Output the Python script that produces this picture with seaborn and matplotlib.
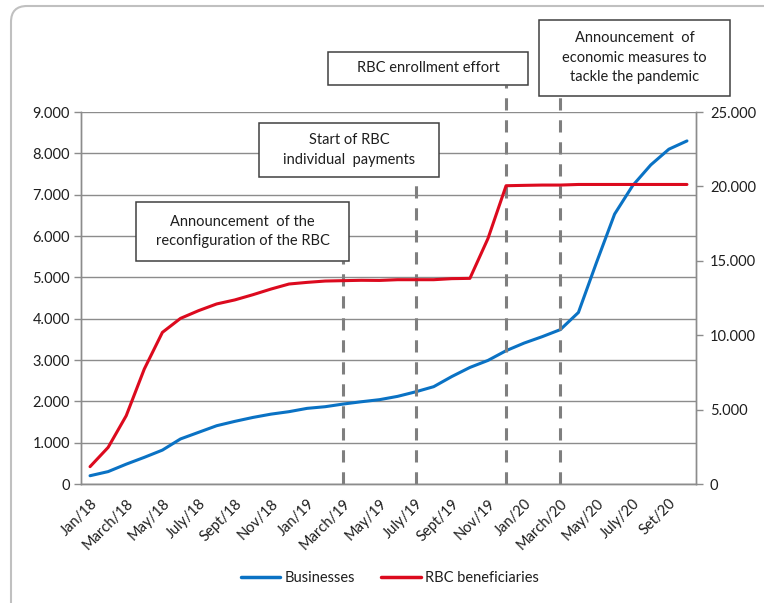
import matplotlib
matplotlib.use("Agg")
import matplotlib.pyplot as plt
import seaborn as sns
import pandas as pd
import numpy as np
from matplotlib.patches import Rectangle, FancyBboxPatch
from matplotlib.ticker import FuncFormatter, FixedLocator
from matplotlib.lines import Line2D

# ---------------- data ----------------
months = ["Jan/18", "Feb/18", "March/18", "April/18", "May/18", "June/18", "July/18", "Aug/18",
          "Sept/18", "Oct/18", "Nov/18", "Dec/18", "Jan/19", "Feb/19", "March/19", "April/19",
          "May/19", "June/19", "July/19", "Aug/19", "Sept/19", "Oct/19", "Nov/19", "Dec/19",
          "Jan/20", "Feb/20", "March/20", "April/20", "May/20", "June/20", "July/20", "Aug/20",
          "Set/20", "Oct/20"]
businesses = [200, 300, 480, 645, 820, 1090, 1250, 1410, 1515, 1610, 1690, 1750, 1830, 1870,
              1935, 1990, 2040, 2120, 2230, 2355, 2600, 2820, 2990, 3225, 3410, 3565, 3735,
              4150, 5360, 6530, 7220, 7720, 8100, 8300]
rbc_beneficiaries = [1165, 2460, 4590, 7730, 10190, 11130, 11650, 12100, 12370, 12720, 13100,
                     13440, 13550, 13640, 13665, 13690, 13680, 13730, 13730, 13730, 13800,
                     13820, 16500, 20045, 20070, 20090, 20090, 20130, 20130, 20130, 20130,
                     20130, 20130, 20130]
left_ticks = [0, 1000, 2000, 3000, 4000, 5000, 6000, 7000, 8000, 9000]
right_ticks = [0, 5000, 10000, 15000, 20000, 25000]
event_months = ["March/19", "July/19", "Dec/19", "March/20"]
event_texts = ["Announcement  of the\nreconfiguration of the RBC",
               "Start of RBC\nindividual  payments",
               "RBC enrollment effort",
               "Announcement  of\neconomic measures to\ntackle the pandemic"]

df = pd.DataFrame({"month": months, "pos": np.arange(len(months)),
                   "Businesses": businesses, "RBC beneficiaries": rbc_beneficiaries})

# ---------------- style ----------------
sns.set_theme(style="white")
plt.rcParams["font.family"] = ["Lato", "DejaVu Sans"]
TXT = "#1e1e1e"
GRID = "#8c8c8c"
BLUE = "#0a72c4"
RED = "#dc0a1e"

W, H = 764, 603
fig = plt.figure(figsize=(W / 100, H / 100), dpi=100)
L, R, T, B = 81, 696, 112, 484
ax = fig.add_axes([L / W, 1 - B / H, (R - L) / W, (B - T) / H])
ax2 = ax.twinx()

sns.lineplot(data=df, x="pos", y="Businesses", ax=ax, color=BLUE, lw=2.2, legend=False)
sns.lineplot(data=df, x="pos", y="RBC beneficiaries", ax=ax2, color=RED, lw=2.2, legend=False)

n = len(months)
ax.set_xlim(-0.5, n - 0.5)
ax.set_ylim(0, 9000)
ax2.set_ylim(0, 25000)

fmt = FuncFormatter(lambda v, p: f"{int(v):,}".replace(",", "."))
ax.yaxis.set_major_locator(FixedLocator(left_ticks))
ax2.yaxis.set_major_locator(FixedLocator(right_ticks))
ax.yaxis.set_major_formatter(fmt)
ax2.yaxis.set_major_formatter(fmt)

ax.set_xticks(np.arange(0, n, 2))
ax.set_xticklabels(months[::2], rotation=45, ha="right", rotation_mode="anchor")
ax.set_xticks(np.arange(-0.5, n, 1), minor=True)
ax.tick_params(axis="x", which="major", length=0, pad=9, labelsize=10.5, labelcolor=TXT)
ax.tick_params(axis="x", which="minor", length=5, width=1, color=GRID, direction="out")
ax.tick_params(axis="y", length=5, width=1, color=GRID, direction="out", labelsize=10.5,
               labelcolor=TXT, pad=3, left=True)
ax2.tick_params(axis="y", length=5, width=1, color=GRID, direction="out", labelsize=10.5,
                labelcolor=TXT, pad=5, right=True)
ax.set_xlabel("")
ax.set_ylabel("")
ax2.set_ylabel("")

ax.grid(True, axis="y", color=GRID, lw=1)
ax.grid(False, axis="x")
for a in (ax, ax2):
    for s in ("left", "right", "bottom"):
        a.spines[s].set_color(GRID)
        a.spines[s].set_linewidth(1)
    a.spines["top"].set_visible(False)
ax.set_zorder(ax2.get_zorder() - 1)
ax2.patch.set_visible(False)

# ---------------- event boxes & dashed lines ----------------
boxes = [(136, 202, 349, 261), (259, 123, 439, 177), (328, 52, 528, 85), (539, 20, 730, 96)]
for mname, text, (x0, y0, x1, y1) in zip(event_months, event_texts, boxes):
    xi = months.index(mname)
    ytop = (B - y1) / (B - T)
    ax.plot([xi, xi], [0, ytop], transform=ax.get_xaxis_transform(), color="#7f7f7f",
            lw=2.2, ls=(0, (4, 3.2)), clip_on=False, zorder=3)
    fig.patches.append(Rectangle((x0 / W, 1 - y1 / H), (x1 - x0) / W, (y1 - y0) / H,
                                 transform=fig.transFigure, facecolor="white",
                                 edgecolor="#404040", lw=1.1, zorder=5))
    fig.text((x0 + x1) / 2 / W, 1 - (y0 + y1) / 2 / H, text, ha="center", va="center",
             fontsize=10.5, color=TXT, linespacing=1.5, zorder=6)

# ---------------- legend ----------------
handles = [Line2D([], [], color=BLUE, lw=2.5), Line2D([], [], color=RED, lw=2.5)]
fig.legend(handles, ["Businesses", "RBC beneficiaries"], loc="center",
           bbox_to_anchor=(390 / W, 1 - 578 / H), ncol=2, frameon=False, fontsize=10.5,
           handlelength=2.7, handletextpad=0.3, columnspacing=1.8, labelcolor=TXT)

# ---------------- chart area border ----------------
fig.patches.append(FancyBboxPatch((11, -30), 820, H - 6 + 30,
                                  boxstyle="round,pad=0,rounding_size=16",
                                  transform=None, facecolor="none", edgecolor="#c0c0c0",
                                  lw=1.5, zorder=0))

fig.savefig("out.png", dpi=100)
